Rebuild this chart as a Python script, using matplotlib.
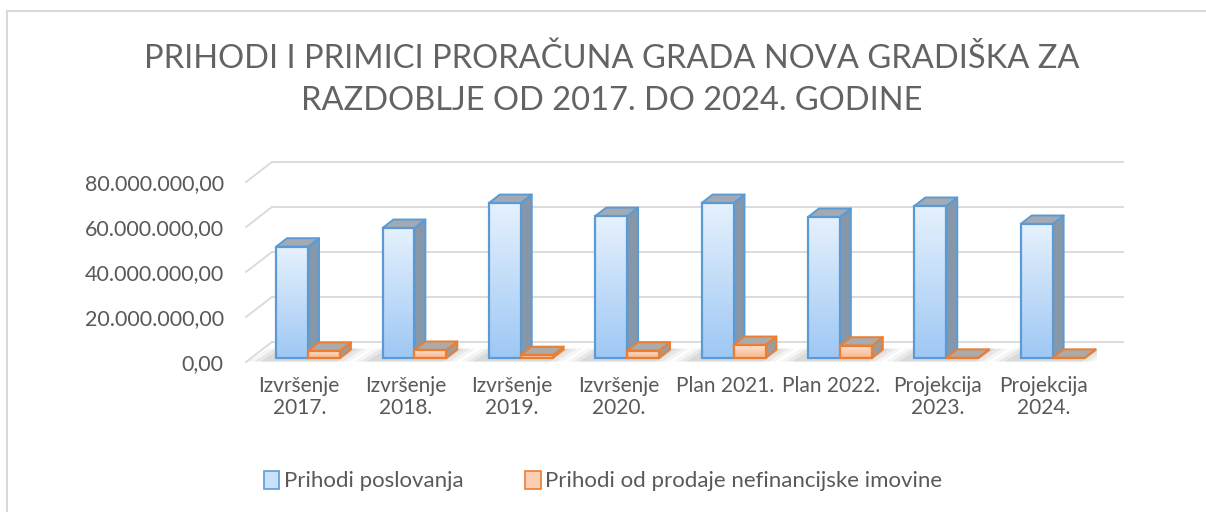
import matplotlib.pyplot as plt
import numpy as np
from matplotlib.colors import LinearSegmentedColormap
from matplotlib.patches import Patch, Polygon, Rectangle

# Data
categories = ["Izvršenje\n2017.", "Izvršenje\n2018.", "Izvršenje\n2019.", "Izvršenje\n2020.",
              "Plan 2021.", "Plan 2022.", "Projekcija\n2023.", "Projekcija\n2024."]
prihodi_poslovanja = [49.5e6, 57.8e6, 68.9e6, 63.1e6, 68.9e6, 62.7e6, 67.6e6, 59.6e6]
prihodi_nefinancijske = [3.2e6, 3.6e6, 1.3e6, 3.3e6, 5.8e6, 5.5e6, 0.1e6, 0.1e6]
yticks = [0, 20e6, 40e6, 60e6, 80e6]

title = "PRIHODI I PRIMICI PRORAČUNA GRADA NOVA GRADIŠKA ZA\nRAZDOBLJE OD 2017. DO 2024. GODINE"
series_names = ["Prihodi poslovanja", "Prihodi od prodaje nefinancijske imovine"]

text_gray = "#595959"
grid_gray = "#D9D9D9"
blue_edge = "#5B9BD5"
orange_edge = "#ED7D31"
blue_cmap = LinearSegmentedColormap.from_list("b", ["#9FC8F4", "#E6F1FD"])
orange_cmap = LinearSegmentedColormap.from_list("o", ["#F8B68E", "#FDE4D3"])

plt.rcParams["font.family"] = ["Lato", "DejaVu Sans"]

W, H = 1206, 512
fig = plt.figure(figsize=(W / 100, H / 100), dpi=100)
ax = fig.add_axes([246 / W, (H - 362) / H, (1097 - 246) / W, 180 / H])

# pseudo-3D depth of the floor (in data units)
DX = 0.244
DY = 8.9e6
f0, f1 = 0.2, 0.62      # bar front / back depth fraction
bw = 0.30               # bar width
offsets = [-0.115, 0.185]

# back wall gridlines + left wall diagonals
for v in yticks:
    ax.plot([-0.5 + DX, 7.5 + DX], [v + DY, v + DY], color=grid_gray, lw=1.3,
            zorder=1, clip_on=False)
    ax.plot([-0.5, -0.5 + DX], [v, v + DY], color=grid_gray, lw=1.3,
            zorder=1, clip_on=False)

grad = np.linspace(0, 1, 64).reshape(-1, 1)
z = 3.0


def draw_bar(xl, h, cmap, edge, side_col, top_col):
    global z
    xr = xl + bw
    side = [(xr + f0 * DX, f0 * DY), (xr + f1 * DX, f1 * DY),
            (xr + f1 * DX, h + f1 * DY), (xr + f0 * DX, h + f0 * DY)]
    top = [(xl + f0 * DX, h + f0 * DY), (xr + f0 * DX, h + f0 * DY),
           (xr + f1 * DX, h + f1 * DY), (xl + f1 * DX, h + f1 * DY)]
    ax.add_patch(Polygon(side, closed=True, facecolor=side_col, edgecolor=edge,
                         lw=1.4, zorder=z, joinstyle="round"))
    ax.add_patch(Polygon(top, closed=True, facecolor=top_col, edgecolor=edge,
                         lw=1.4, zorder=z + 0.001, joinstyle="round"))
    ax.imshow(grad, extent=(xl + f0 * DX, xr + f0 * DX, f0 * DY, h + f0 * DY),
              origin="lower", aspect="auto", cmap=cmap, zorder=z + 0.002,
              interpolation="bilinear")
    ax.add_patch(Rectangle((xl + f0 * DX, f0 * DY), bw, h, fill=False,
                           edgecolor=edge, lw=1.6, zorder=z + 0.003))
    z += 0.01


for i in range(len(categories)):
    xl_b = i + offsets[0] - bw / 2
    xr_o = i + offsets[1] + bw / 2
    # soft floor shadow
    for k, a in enumerate([0.15, 0.25, 0.35]):
        grow = 0.06 * (2 - k)
        shadow = [(xl_b - 0.10 - grow, 0.2e6), (xr_o + 0.02 + grow, 0.2e6),
                  (xr_o + f1 * DX + 0.06 + grow, f1 * DY + 0.4e6),
                  (xl_b + f1 * DX - 0.06 - grow, f1 * DY + 0.4e6)]
        ax.add_patch(Polygon(shadow, closed=True, facecolor="#BFBFBF",
                             edgecolor="none", alpha=a, zorder=2))
    draw_bar(xl_b, prihodi_poslovanja[i], blue_cmap, blue_edge, "#8797AA", "#A3AAB3")
    draw_bar(i + offsets[1] - bw / 2, prihodi_nefinancijske[i], orange_cmap,
             orange_edge, "#9C9C9C", "#ABABAB")


def fmt(v):
    s = f"{v:,.2f}"
    return s.replace(",", "X").replace(".", ",").replace("X", ".")


ax.set_xlim(-0.5, 7.5)
ax.set_ylim(0, 80e6)
ax.set_yticks(yticks)
ax.set_yticklabels([fmt(v) for v in yticks])
ax.set_xticks(range(len(categories)))
ax.set_xticklabels(categories, linespacing=1.15)
ax.tick_params(axis="y", length=0, pad=16, labelsize=15.5, labelcolor=text_gray)
ax.tick_params(axis="x", length=0, pad=10, labelsize=15, labelcolor=text_gray)
for s in ax.spines.values():
    s.set_visible(False)
ax.patch.set_visible(False)

fig.text(612 / W, 1 - 80 / H, title, ha="center", va="center", fontsize=23.5,
         color="#636363", fontweight="normal", linespacing=1.5)

handles = [Patch(facecolor="#C9E1FA", edgecolor=blue_edge, lw=1.2),
           Patch(facecolor="#FBD0B5", edgecolor=orange_edge, lw=1.2)]
fig.legend(handles, series_names, loc="center", bbox_to_anchor=(603 / W, 1 - 481 / H),
           ncol=2, frameon=False, fontsize=16, labelcolor=text_gray,
           handlelength=0.7, handleheight=0.9, handletextpad=0.2, columnspacing=2.8)

# outer chart border
fig.patches.append(Rectangle((7 / W, -0.1), 1.2, 1.1 - 11 / H, transform=fig.transFigure,
                             fill=False, edgecolor=grid_gray, lw=1.5))

fig.savefig("out.png", dpi=100)
